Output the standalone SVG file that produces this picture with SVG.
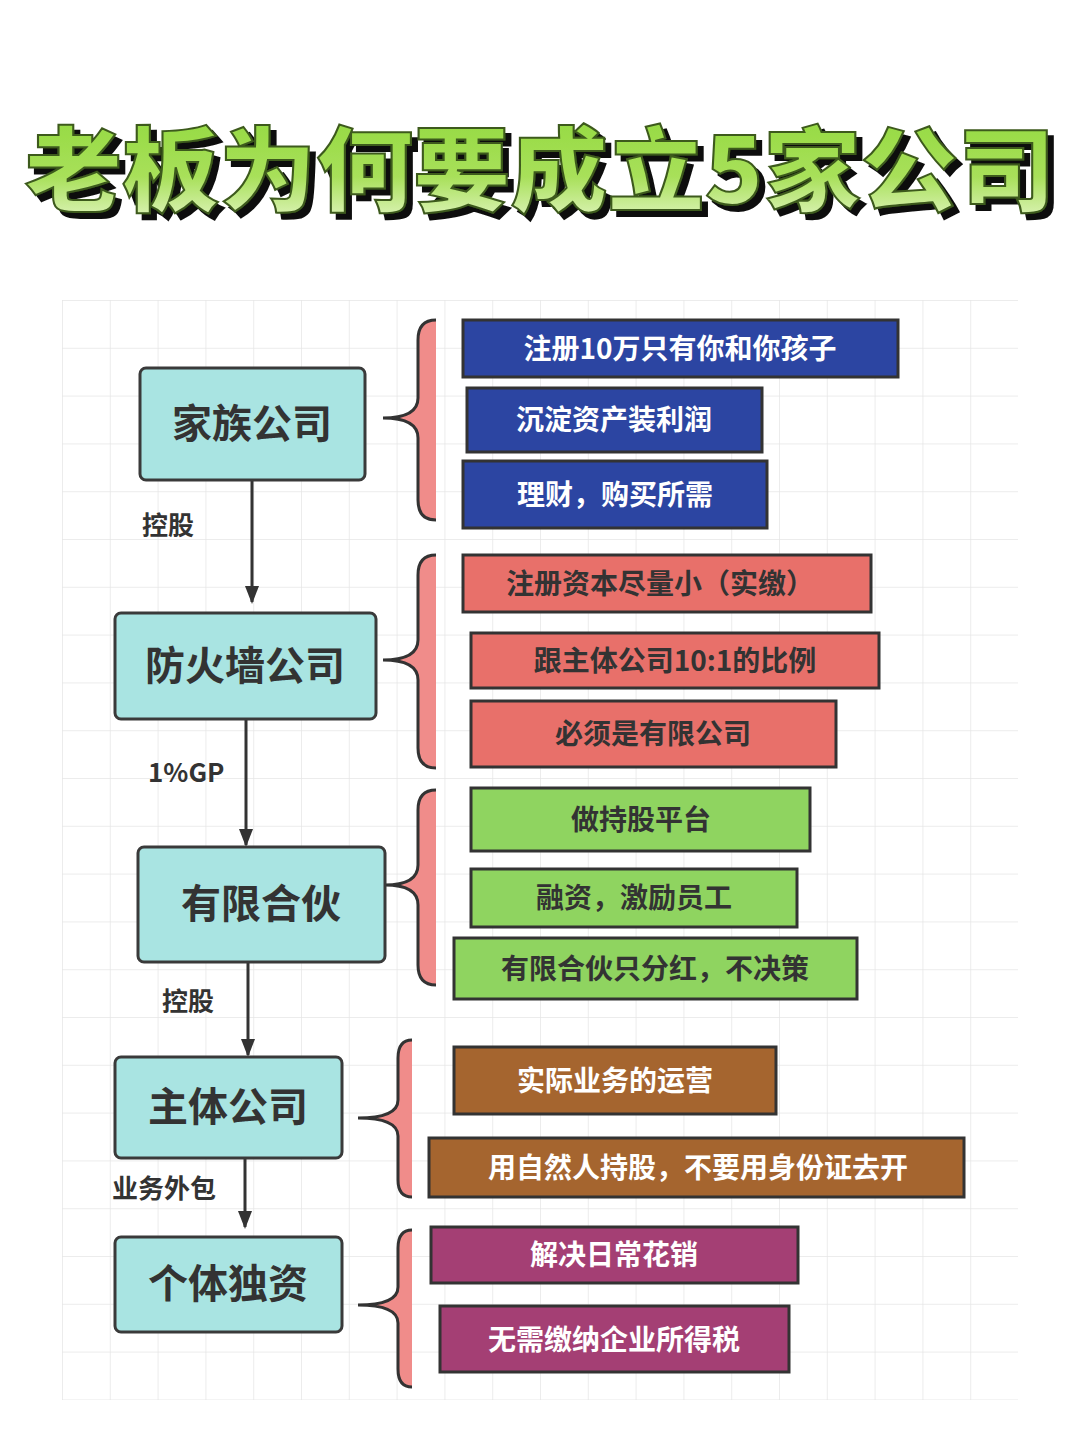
<svg xmlns="http://www.w3.org/2000/svg" width="1080" height="1440" viewBox="0 0 1080 1440">
<defs>
<pattern id="grid" width="47.8" height="47.8" patternUnits="userSpaceOnUse" x="62" y="300">
<path d="M0 0H47.8M0 0V47.8" fill="none" stroke="#e6e6e6" stroke-width="1.5"/>
</pattern>
<linearGradient id="tg" x1="0" y1="0" x2="0" y2="1"><stop offset="0" stop-color="#8fd83a"/><stop offset="0.6" stop-color="#a8e05a"/><stop offset="1" stop-color="#eaf8d0"/></linearGradient>
<filter id="sh" x="-5%" y="-20%" width="110%" height="140%"><feDropShadow dx="6" dy="6" stdDeviation="0.5" flood-color="#111" flood-opacity="1"/></filter>
<marker id="ah" markerWidth="18" markerHeight="18" refX="16" refY="9" orient="auto" markerUnits="userSpaceOnUse" viewBox="0 0 18 18"><path d="M0 2L18 9L0 16Z" fill="#333"/></marker>
</defs>
<style>
.node rect{fill:#a9e4e2;stroke:#3a3a3a;stroke-width:3}
.node text{font-family:"Noto Sans CJK SC",sans-serif;font-weight:bold;font-size:40px;fill:#333;text-anchor:middle}
.lbl{font-family:"Noto Sans CJK SC",sans-serif;font-weight:bold;font-size:26px;fill:#333}
.conn line{stroke:#333;stroke-width:3;marker-end:url(#ah)}
.br{fill:#f08c8a}
.brs{fill:none;stroke:#333;stroke-width:3}
.item rect{stroke:#333;stroke-width:3}
.item text{font-family:"Noto Sans CJK SC",sans-serif;font-weight:bold;font-size:28px;text-anchor:middle}
.b rect{fill:#2c45a2}.b text{fill:#fff}
.r rect{fill:#e8706a}.r text{fill:#333}
.g rect{fill:#8fd460}.g text{fill:#333}
.o rect{fill:#a5652f}.o text{fill:#fff}
.m rect{fill:#a43f74}.m text{fill:#fff}
.title{font-family:"Noto Sans CJK SC",sans-serif;font-weight:900;font-size:92px}
</style>
<rect width="1080" height="1440" fill="#fff"/>
<rect x="62" y="300" width="956" height="1100" fill="url(#grid)"/>
<g id="title">
<text class="title" x="540" y="204" text-anchor="middle" textLength="1030" lengthAdjust="spacingAndGlyphs" fill="url(#tg)" stroke="#3d5a1e" stroke-width="2" filter="url(#sh)">老板为何要成立5家公司</text>
</g>
<g id="braces">
<path class="br" d="M436 320Q418 320 418 340V398Q418 418 383 418Q418 418 418 438V500Q418 520 436 520Z"/>
<path class="brs" d="M436 320Q418 320 418 340V398Q418 418 383 418Q418 418 418 438V500Q418 520 436 520"/>
<path class="br" d="M436 555Q418 555 418 575V640Q418 660 383 660Q418 660 418 680V748Q418 768 436 768Z"/>
<path class="brs" d="M436 555Q418 555 418 575V640Q418 660 383 660Q418 660 418 680V748Q418 768 436 768"/>
<path class="br" d="M436 790Q418 790 418 810V865Q418 885 385 885Q418 885 418 905V965Q418 985 436 985Z"/>
<path class="brs" d="M436 790Q418 790 418 810V865Q418 885 385 885Q418 885 418 905V965Q418 985 436 985"/>
<path class="br" d="M412 1040Q398 1040 398 1058V1100Q398 1118 358 1118Q398 1118 398 1136V1180Q398 1197 412 1197Z"/>
<path class="brs" d="M412 1040Q398 1040 398 1058V1100Q398 1118 358 1118Q398 1118 398 1136V1180Q398 1197 412 1197"/>
<path class="br" d="M412 1230Q398 1230 398 1248V1287Q398 1305 358 1305Q398 1305 398 1323V1369Q398 1387 412 1387Z"/>
<path class="brs" d="M412 1230Q398 1230 398 1248V1287Q398 1305 358 1305Q398 1305 398 1323V1369Q398 1387 412 1387"/>
</g>
<g class="conn" id="connectors">
<line x1="252" y1="480" x2="252" y2="602"/>
<line x1="246" y1="719" x2="246" y2="845"/>
<line x1="248" y1="962" x2="248" y2="1055"/>
<line x1="245" y1="1158" x2="245" y2="1227"/>
<text class="lbl" x="142" y="535">控股</text>
<text class="lbl" x="148" y="782">1%GP</text>
<text class="lbl" x="162" y="1011">控股</text>
<text class="lbl" x="112" y="1198">业务外包</text>
</g>
<g class="node" id="n1"><rect x="140" y="368" width="225" height="112" rx="6"/><text x="252" y="438">家族公司</text></g>
<g class="node" id="n2"><rect x="115" y="613" width="261" height="106" rx="6"/><text x="245" y="680">防火墙公司</text></g>
<g class="node" id="n3"><rect x="138" y="847" width="247" height="115" rx="6"/><text x="261" y="918">有限合伙</text></g>
<g class="node" id="n4"><rect x="115" y="1057" width="227" height="101" rx="6"/><text x="228" y="1121">主体公司</text></g>
<g class="node" id="n5"><rect x="115" y="1237" width="227" height="95" rx="6"/><text x="228" y="1298">个体独资</text></g>
<g class="item b" id="i1"><rect x="463" y="320" width="435" height="57"/><text x="680" y="359">注册10万只有你和你孩子</text></g>
<g class="item b" id="i2"><rect x="467" y="388" width="295" height="64"/><text x="614" y="430">沉淀资产装利润</text></g>
<g class="item b" id="i3"><rect x="463" y="461" width="304" height="67"/><text x="615" y="505">理财，购买所需</text></g>
<g class="item r" id="i4"><rect x="463" y="555" width="408" height="57"/><text x="660" y="594">注册资本尽量小（实缴）</text></g>
<g class="item r" id="i5"><rect x="471" y="633" width="408" height="55"/><text x="675" y="671">跟主体公司10:1的比例</text></g>
<g class="item r" id="i6"><rect x="471" y="701" width="365" height="66"/><text x="653" y="744">必须是有限公司</text></g>
<g class="item g" id="i7"><rect x="471" y="788" width="339" height="63"/><text x="641" y="830">做持股平台</text></g>
<g class="item g" id="i8"><rect x="471" y="869" width="326" height="58"/><text x="634" y="908">融资，激励员工</text></g>
<g class="item g" id="i9"><rect x="454" y="938" width="403" height="61"/><text x="655" y="979">有限合伙只分红，不决策</text></g>
<g class="item o" id="i10"><rect x="454" y="1047" width="322" height="67"/><text x="615" y="1091">实际业务的运营</text></g>
<g class="item o" id="i11"><rect x="429" y="1138" width="535" height="59"/><text x="698" y="1178">用自然人持股，不要用身份证去开</text></g>
<g class="item m" id="i12"><rect x="431" y="1227" width="367" height="56"/><text x="614" y="1265">解决日常花销</text></g>
<g class="item m" id="i13"><rect x="440" y="1306" width="349" height="66"/><text x="614" y="1350">无需缴纳企业所得税</text></g>
</svg>
